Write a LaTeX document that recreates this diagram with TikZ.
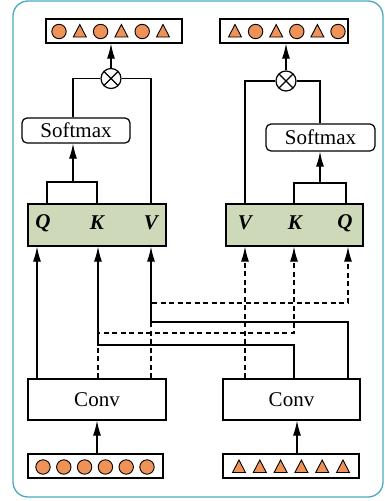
\documentclass[tikz,border=0pt]{standalone}
\usepackage{fontspec}
\setmainfont{Liberation Serif}
\usetikzlibrary{arrows.meta,calc,positioning}
\definecolor{FrameTeal}{HTML}{4CA9BD}
\definecolor{TokOrange}{HTML}{EE9258}
\definecolor{AttGreen}{HTML}{CDD9B9}
\tikzset{
    block/.style = {draw, rectangle, line width=1.2pt,
        minimum height=41pt,
        minimum width=138pt, align=center},
    attn/.style = {block, fill=AttGreen, minimum height=42pt},
    smax/.style = {draw, rectangle, rounded corners=5pt, line width=1.2pt,
        minimum height=25pt, minimum width=108pt},
    tokens/.style = {draw, rectangle, line width=1.2pt,
        minimum height=24pt, minimum width=136pt},
    mult/.style = {draw, circle, line width=1.2pt, minimum size=20pt, inner sep=0pt,
        path picture={\draw[line width=1.2pt] (path picture bounding box.north west) -- (path picture bounding box.south east)
            (path picture bounding box.north east) -- (path picture bounding box.south west);}},
    qkv/.style = {inner sep=0pt, font=\fontsize{21}{24}\selectfont\bfseries\itshape},
    line/.style = {draw, line width=1.2pt},
    arrow/.style = {line, -{Latex[length=15pt,width=8pt]}},
    dline/.style = {line, dash pattern=on 5pt off 3.5pt},
    tok/.style = {draw=black, fill=TokOrange, line width=0.9pt}
}
\newcommand{\tokcirc}[2]{\draw[tok, shift={({#1},{#2})}] (0,0) circle (7.2pt);}
\newcommand{\toktri}[2]{\draw[tok, shift={({#1},{#2})}] (-6.5,5.5) -- (6.5,5.5) -- (0,-7) -- cycle;}

\begin{document}
\begin{tikzpicture}[x=1pt, y=-1pt,
    every node/.style={font=\fontsize{21}{24}\selectfont}]
        \useasboundingbox (0,0) rectangle (384,501);
        \draw[FrameTeal, line width=1.3pt, rounded corners=15pt] (13,1) rectangle (383,497);
        % token rows
        \node [tokens, name=out1] at (114,31) {};
        \node [tokens, name=out2, minimum width=128pt] at (284,31) {};
        \node [tokens, name=tok1, minimum width=135pt] at (95.5,466) {};
        \node [tokens, name=tok2] at (291,466) {};
        \foreach \a [evaluate=\a as \xa using 59+20.8*\a,
                     evaluate=\a as \xb using 59+20.8*(\a+1),
                     evaluate=\a as \xc using 235+20.6*\a,
                     evaluate=\a as \xd using 235+20.6*(\a+1)] in {0,2,4}{
            \tokcirc{\xa}{31.5}
            \toktri{\xb}{31.5}
            \toktri{\xc}{31.5}
            \tokcirc{\xd}{31.5}
        }
        \foreach \a [evaluate=\a as \xa using 43+20.8*\a,
                     evaluate=\a as \xb using 239+20.8*\a] in {0,1,...,5}{
            \tokcirc{\xa}{467}
            \toktri{\xb}{467}
        }
        % blocks
        \node [mult, name=mult1] at (111,78.5) {};
        \node [mult, name=mult2] at (286,81) {};
        \node [smax, name=smax1] at (76,130.5) {Softmax};
        \node [smax, name=smax2, minimum width=109pt, minimum height=27pt] at (320.5,137.5) {Softmax};
        \node [attn, name=att1] at (97,225) {};
        \node [attn, name=att2, minimum width=137pt] at (294.5,225) {};
        \node [block, name=conv1] at (97,399.5) {Conv};
        \node [block, name=conv2, minimum width=137pt] at (291.5,399.5) {Conv};
        \node [qkv, name=q1] at (43,223) {Q};
        \node [qkv, name=k1] at (97,223) {K};
        \node [qkv, name=v1] at (151,223) {V};
        \node [qkv, name=v2] at (245,223) {V};
        \node [qkv, name=k2] at (295,223) {K};
        \node [qkv, name=q2] at (345,223) {Q};
        % columns and levels
        \coordinate (lq) at (37,0);
        \coordinate (lk) at (98,0);
        \coordinate (lv) at (151,0);
        \coordinate (rv) at (245,0);
        \coordinate (rk) at (294,0);
        \coordinate (rq) at (348,0);
        \coordinate (lqt) at (47,0);
        \coordinate (lkt) at (97,0);
        \coordinate (rqt) at (346,0);
        \coordinate (rin) at (297,0);
        \coordinate (lvl1) at (0,303);
        \coordinate (lvl2) at (0,322);
        \coordinate (lvl3) at (0,333);
        \coordinate (lvl4) at (0,345);
        \coordinate (join1) at (73,182);
        \coordinate (join2) at (320,183);
        % conv -> attention
        \draw [dline,arrow] (conv1.north -| lk) -- (lk |- lvl3) -- (rk |- lvl3) -- (att2.south -| rk);
        \draw [dline,arrow] (conv1.north -| lv) -- (lv |- lvl1) -- (rq |- lvl1) -- (att2.south -| rq);
        \draw [dline,arrow] (conv2.north -| rv) -- (att2.south -| rv);
        \draw [arrow] (conv1.north -| lq) -- (att1.south -| lq);
        \draw [arrow] (conv2.north -| rk) -- (rk |- lvl4) -- (lk |- lvl4) -- (att1.south -| lk);
        \draw [arrow] (conv2.north -| rq) -- (rq |- lvl2) -- (lv |- lvl2) -- (att1.south -| lv);
        \draw [arrow] (tok1.north -| lkt) -- (conv1.south -| lkt);
        \draw [arrow] (tok2.north -| rin) -- (conv2.south -| rin);
        % attention -> softmax -> mult
        \draw [line] (att1.north -| lqt) -- (lqt |- join1) -- (lkt |- join1) -- (att1.north -| lkt);
        \draw [arrow] (join1) -- (smax1.south -| join1);
        \draw [line] (smax1.north -| join1) |- (mult1.west);
        \draw [line] (att1.north -| lv) |- (mult1.east);
        \draw [arrow] (mult1.north) -- (mult1.north |- out1.south);
        \draw [line] (att2.north -| rk) -- (rk |- join2) -- (rqt |- join2) -- (att2.north -| rqt);
        \draw [arrow] (join2) -- (smax2.south -| join2);
        \draw [line] (smax2.north -| join2) |- (mult2.east);
        \draw [line] (att2.north -| rv) |- (mult2.west);
        \draw [arrow] (mult2.north) -- (mult2.north |- out2.south);
\end{tikzpicture}
\end{document}
